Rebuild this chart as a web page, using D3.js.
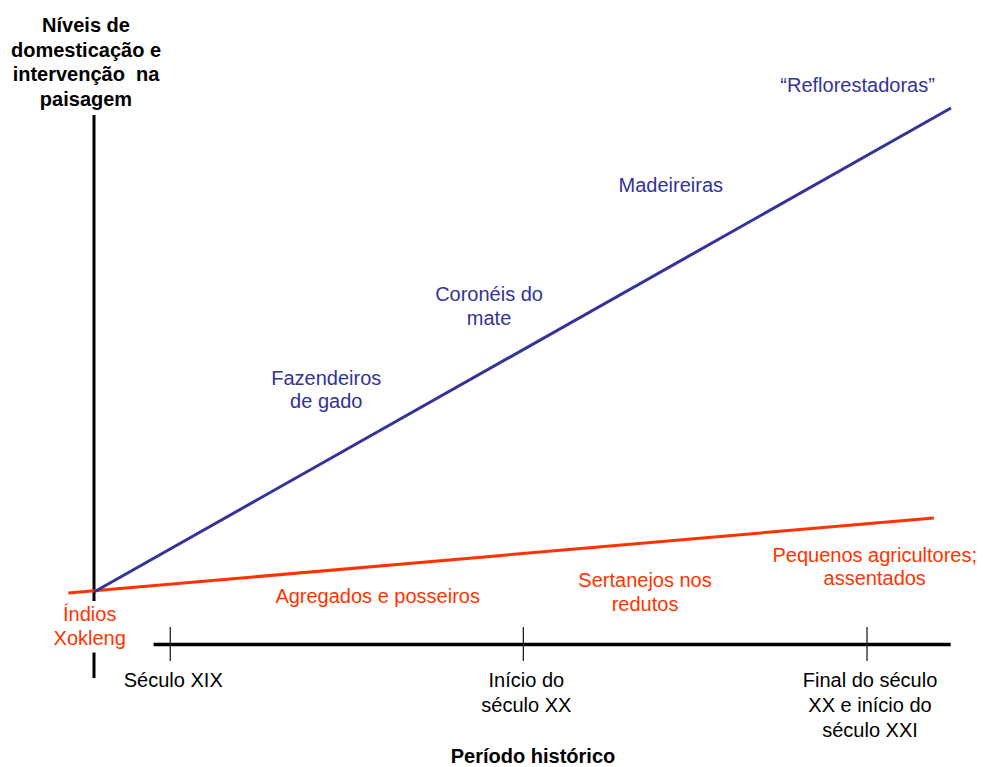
<!DOCTYPE html>
<html>
<head>
<meta charset="utf-8">
<script src="https://cdn.jsdelivr.net/npm/d3@7"></script>
<style>
  html, body { margin: 0; padding: 0; background: #fff; }
  svg { display: block; font-family: "Liberation Sans", Arial, sans-serif; }
  text { white-space: pre; }
</style>
</head>
<body>
<svg id="chart" width="983" height="767"></svg>
<script>
// ---- data (conceptual units: x = historical period, y = level of domestication) ----
const periodLabels = ["Século XIX", "Início do\nséculo XX", "Final do século\nXX e início do\nséculo XXI"];
const periodValues = [8.9, 50.1, 90.2];

const blueX = [0, 100];
const blueY = [0, 100];
const redX = [-3, 98];
const redY = [-0.2, 15.3];

const blueActors = ["Fazendeiros\nde gado", "Coronéis do\nmate", "Madeireiras", "“Reflorestadoras”"];
const blueActorX = [27.1, 46.1, 67.3, 89.1];
const blueActorY = [42.8, 60.1, 82.6, 103.3];

const redActors = ["Índios\nXokleng", "Agregados e posseiros", "Sertanejos nos\nredutos", "Pequenos agricultores;\nassentados"];
const redActorX = [-0.5, 33.1, 64.3, 91.1];
const redActorY = [-6.0, -2.3, 1.0, 6.2];

const yTitle = ["Níveis de", "domesticação e", "intervenção  na", "paisagem"];
const xTitle = "Período histórico";

// ---- layout ----
const svg = d3.select("#chart");
const x = d3.scaleLinear().domain([0, 100]).range([94, 951]);
const y = d3.scaleLinear().domain([0, 100]).range([592, 108]);
const blue = "#333399", red = "#ff3300";
const fs = 20;

// vertical axis
svg.append("line")
  .attr("x1", x(0)).attr("x2", x(0))
  .attr("y1", y(100) + 7).attr("y2", 678)
  .attr("stroke", "#000").attr("stroke-width", 3);

// horizontal axis with ticks via d3 axis
const axisY = 644;
const axisScale = x.copy().domain([6.9, 99.9]).range([x(6.9), x(99.9)]);
const xAxis = d3.axisBottom(axisScale).tickValues(periodValues).tickSize(0).tickFormat("");
const ag = svg.append("g").attr("transform", `translate(0,${axisY})`).call(xAxis);
ag.select(".domain").attr("stroke", "#000").attr("stroke-width", 3.5);
ag.selectAll(".tick line").remove();
periodValues.forEach(v => {
  svg.append("line")
    .attr("x1", x(v)).attr("x2", x(v))
    .attr("y1", axisY - 17).attr("y2", axisY + 17)
    .attr("stroke", "#222").attr("stroke-width", 1.3);
});

// lines
const lineGen = d3.line().x(d => x(d[0])).y(d => y(d[1]));
svg.append("path").datum(d3.zip(redX, redY))
  .attr("d", lineGen).attr("fill", "none").attr("stroke", red).attr("stroke-width", 3);
svg.append("path").datum(d3.zip(blueX, blueY))
  .attr("d", lineGen).attr("fill", "none").attr("stroke", blue).attr("stroke-width", 3);

function multiText(g, text, cx, baseline, color, weight, lineH, bg) {
  const t = g.append("text")
    .attr("x", cx).attr("y", baseline)
    .attr("text-anchor", "middle")
    .attr("font-size", fs)
    .attr("font-weight", weight || "normal")
    .attr("fill", color);
  text.split("\n").forEach((s, i) => {
    t.append("tspan").attr("x", cx).attr("dy", i === 0 ? 0 : lineH).text(s);
  });
  if (bg) {
    const b = t.node().getBBox();
    g.insert("rect", () => t.node())
      .attr("x", b.x - 2).attr("y", b.y - 2)
      .attr("width", b.width + 4).attr("height", b.height + 6)
      .attr("fill", "#fff");
  }
  return t;
}

const labels = svg.append("g");
blueActors.forEach((s, i) => multiText(labels, s, x(blueActorX[i]), y(blueActorY[i]), blue, "normal", 23.5));
redActors.forEach((s, i) => multiText(labels, s, x(redActorX[i]), y(redActorY[i]), red, "normal", 23.5, i === 0));

// period labels
periodLabels.forEach((s, i) => multiText(labels, s, x(periodValues[i]) + 3, 687, "#000", "normal", 25));

// titles
multiText(labels, yTitle.join("\n"), 86, 32, "#000", "bold", 24.7);
multiText(labels, xTitle, 533, 763, "#000", "bold", 24);
</script>
</body>
</html>
